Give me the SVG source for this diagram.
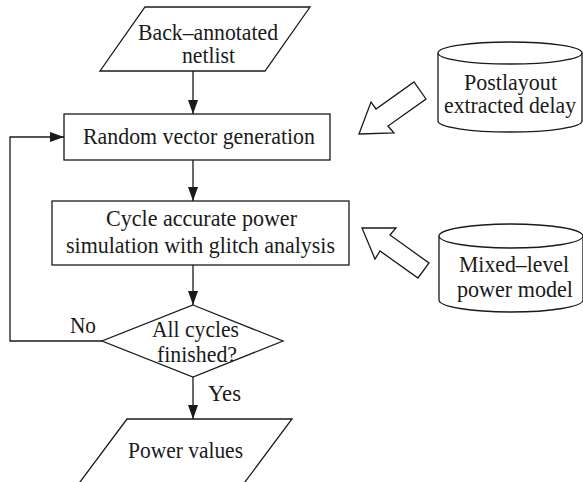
<svg xmlns="http://www.w3.org/2000/svg" width="583" height="482" viewBox="0 0 583 482">
<defs>
<style>
.s{fill:#fff;stroke:#1a1a1a;stroke-width:1.3}
.l{fill:none;stroke:#1a1a1a;stroke-width:1.3}
.t{font-family:"Liberation Serif","Times New Roman",serif;font-size:23px;fill:#1a1a1a}
</style>
<marker id="ah" markerWidth="14" markerHeight="10" refX="14" refY="5" orient="auto" markerUnits="userSpaceOnUse">
<path d="M0,0 L14,5 L0,10 Z" fill="#1a1a1a"/>
</marker>
</defs>
<rect width="583" height="482" fill="#fff"/>
<g id="connectors">
<line class="l" x1="193" y1="71" x2="193" y2="114" marker-end="url(#ah)"/>
<line class="l" x1="193" y1="160" x2="193" y2="201" marker-end="url(#ah)"/>
<line class="l" x1="193" y1="265" x2="193" y2="305" marker-end="url(#ah)"/>
<line class="l" x1="193" y1="377" x2="193" y2="419" marker-end="url(#ah)"/>
<polyline class="l" points="102,341 10,341 10,137 64,137" marker-end="url(#ah)"/>
<text class="t" x="70" y="333" textLength="26" lengthAdjust="spacingAndGlyphs">No</text>
<text class="t" x="208" y="401" textLength="33" lengthAdjust="spacingAndGlyphs">Yes</text>
<polygon class="s" points="359,134 371,102 376,109 414,82 426,99 388,126 394,133"/>
<polygon class="s" points="362,228 396,228 390,235 429,263 418,278 380,251 375,259"/>
</g>
<g id="netlist">
<polygon class="s" points="145,7 310,7 265,71 100,71"/>
<text class="t" x="138" y="40" textLength="140" lengthAdjust="spacingAndGlyphs">Back–annotated</text>
<text class="t" x="182" y="63" textLength="53" lengthAdjust="spacingAndGlyphs">netlist</text>
</g>
<g id="random">
<rect class="s" x="64" y="114" width="266" height="46"/>
<text class="t" x="83" y="144" textLength="232" lengthAdjust="spacingAndGlyphs">Random vector generation</text>
</g>
<g id="sim">
<rect class="s" x="52" y="201" width="297" height="64"/>
<text class="t" x="106" y="226" textLength="191" lengthAdjust="spacingAndGlyphs">Cycle accurate power</text>
<text class="t" x="66" y="253" textLength="269" lengthAdjust="spacingAndGlyphs">simulation with glitch analysis</text>
</g>
<g id="decision">
<polygon class="s" points="193,305 283,341 193,377 102,341"/>
<text class="t" x="152" y="337" textLength="87" lengthAdjust="spacingAndGlyphs">All cycles</text>
<text class="t" x="157" y="362" textLength="80" lengthAdjust="spacingAndGlyphs">finished?</text>
</g>
<g id="power">
<polygon class="s" points="127,419 292,419 242,486 77,486"/>
<text class="t" x="128" y="458" textLength="115" lengthAdjust="spacingAndGlyphs">Power values</text>
</g>
<g id="delay">
<path class="s" d="M438,53 L438,121 A72,11 0 0 0 582,121 L582,53"/>
<ellipse class="s" cx="510" cy="53" rx="72" ry="11"/>
<text class="t" x="464" y="90" textLength="93" lengthAdjust="spacingAndGlyphs">Postlayout</text>
<text class="t" x="444" y="113" textLength="132" lengthAdjust="spacingAndGlyphs">extracted delay</text>
</g>
<g id="model">
<path class="s" d="M439,236 L439,300 A72,12 0 0 0 583,300 L583,236"/>
<ellipse class="s" cx="511" cy="236" rx="72" ry="12"/>
<text class="t" x="459" y="272" textLength="110" lengthAdjust="spacingAndGlyphs">Mixed–level</text>
<text class="t" x="457" y="297" textLength="116" lengthAdjust="spacingAndGlyphs">power model</text>
</g>
</svg>
